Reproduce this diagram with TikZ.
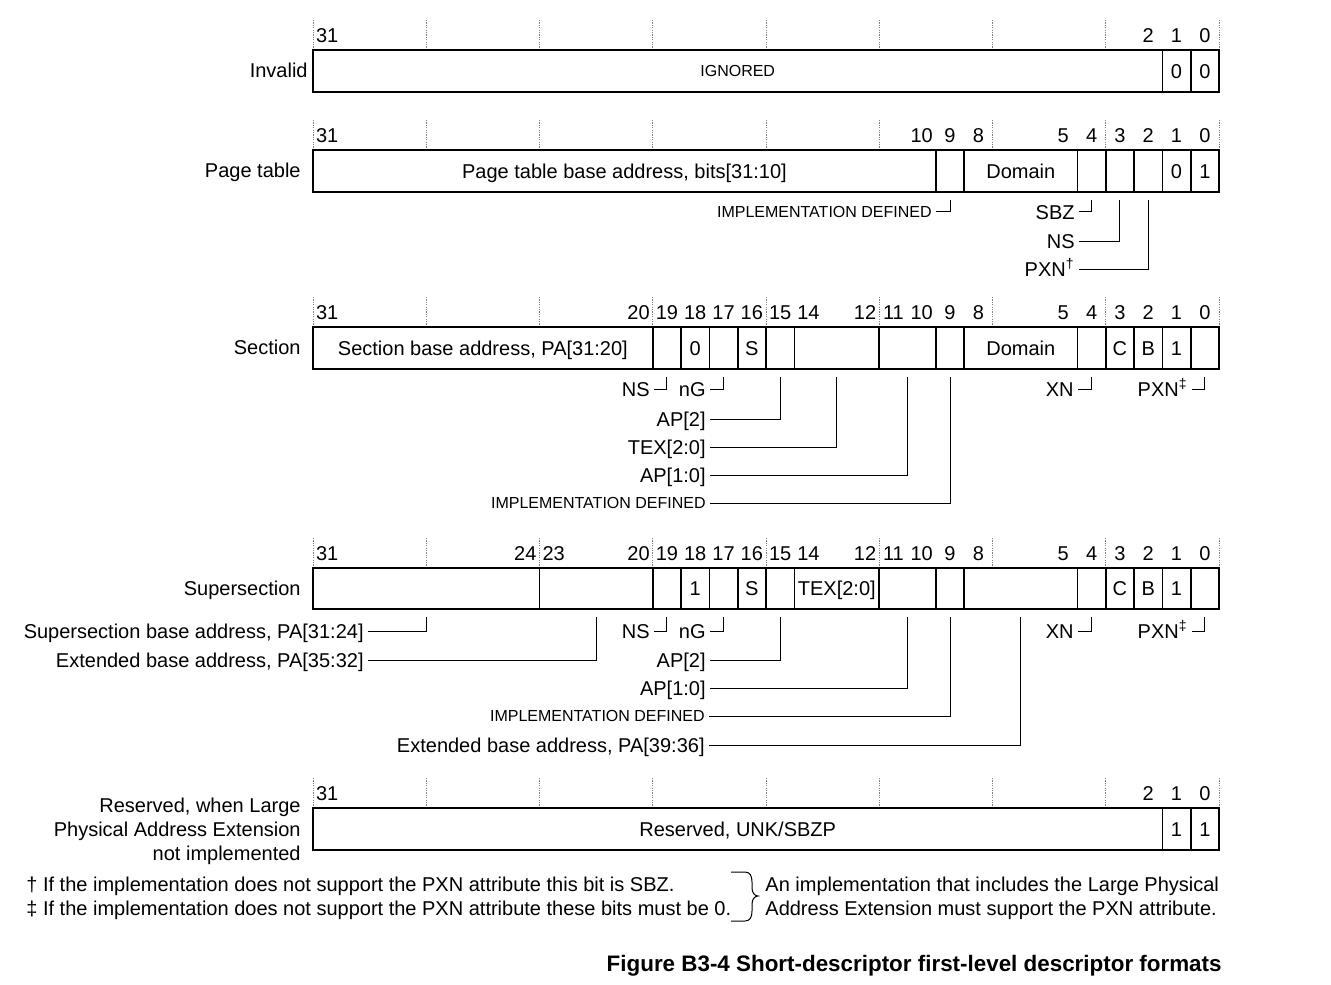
\documentclass[tikz,border=0pt]{standalone}
\usepackage{fontspec}
\setmainfont{Liberation Sans}
% centre of bit field hi:lo (pixel x)
\newcommand\fc[2]{(313+(63-#1-#2)*14.15625)}
% left edge of bit
\newcommand\bL[1]{(313+(31-#1)*28.3125)}
\newcommand\ticksrow[1]{\foreach \k in {0,...,8}{\draw[tick] ({313+\k*113.25},{#1-30}) -- ({313+\k*113.25},#1);}}
\newcommand\numsrow[3]{\foreach \n in {#3}{\node (#1\n) at ({\fc{\n}{\n}},{#2-15}) {\n};}}
\newcommand\divsrow[3]{\foreach \n in {#3}{\draw[div] ({\bL{\n}},#1) -- ({\bL{\n}},#2);}}
\begin{document}
\begin{tikzpicture}[x=0.5pt,y=-0.5pt,
  every node/.style={inner sep=0pt,font=\fontsize{10}{12}\selectfont,text height=7.2pt,text depth=0pt},
  sm/.style={font=\fontsize{8}{10}\selectfont,text height=5.75pt},
  rowlab/.style={anchor=east},
  alab/.style={anchor=east,inner xsep=2pt},
  box/.style={line width=1pt},
  div/.style={line width=0.8pt},
  tick/.style={gray,line width=0.5pt,dash pattern=on 0.6pt off 0.6pt},
  lead/.style={line width=0.5pt}]
\fill[white] (0,0) rectangle (1331,984);
\useasboundingbox (0,0) rectangle (1331,984);

% ---------------- Invalid ----------------
\ticksrow{50}
\numsrow{a}{50}{31,2,1,0}
\draw[box] (313,50) rectangle (1219,92);
\divsrow{50}{92}{1,0}
\node[rowlab] (labA) at (308,70) {Invalid};
\node[sm] (ignA) at ({\fc{31}{2}},71) {IGNORED};
\node (a1v) at ({\fc{1}{1}},71) {0};
\node (a0v) at ({\fc{0}{0}},71) {0};

% ---------------- Page table ----------------
\ticksrow{150}
\numsrow{b}{150}{31,10,9,8,5,4,3,2,1,0}
\draw[box] (313,150) rectangle (1219,192);
\divsrow{150}{192}{9,8,4,3,2,1,0}
\node[rowlab] (labB) at (301,170) {Page table};
\node (ptb) at ({\fc{31}{10}},171) {Page table base address, bits[31:10]};
\node (domB) at ({\fc{8}{5}},171) {Domain};
\node (b1v) at ({\fc{1}{1}},171) {0};
\node (b0v) at ({\fc{0}{0}},171) {1};
\foreach \n in {9,4,3,2} {\coordinate (bt\n) at ({\fc{\n}{\n}},200);}
\node[alab,sm] (bImp) at (936,212) {IMPLEMENTATION DEFINED};
\node[alab] (bSBZ) at (1079,212) {SBZ};
\node[alab] (bNS) at (1079,241) {NS};
\node[alab] (bPXN) at (1079,269) {PXN\textsuperscript{†}};
\draw[lead] (bImp.east) -| (bt9);
\draw[lead] (bSBZ.east) -| (bt4);
\draw[lead] (bNS.east) -| (bt3);
\draw[lead] (bPXN.east) -| (bt2);

% ---------------- Section ----------------
\ticksrow{327}
\numsrow{c}{327}{31,20,19,18,17,16,15,14,12,11,10,9,8,5,4,3,2,1,0}
\draw[box] (313,327) rectangle (1219,369);
\divsrow{327}{369}{19,18,17,16,15,14,11,9,8,4,3,2,1,0}
\node[rowlab] (labC) at (301,347) {Section};
\node (sba) at ({\fc{31}{20}},348) {Section base address, PA[31:20]};
\node (c18v) at ({\fc{18}{18}},348) {0};
\node (c16v) at ({\fc{16}{16}},348) {S};
\node (domC) at ({\fc{8}{5}},348) {Domain};
\node (c3v) at ({\fc{3}{3}},348) {C};
\node (c2v) at ({\fc{2}{2}},348) {B};
\node (c1v) at ({\fc{1}{1}},348) {1};
\foreach \n in {19,17,15,9,4,0} {\coordinate (ct\n) at ({\fc{\n}{\n}},377);}
\coordinate (ctTEX) at ({\fc{14}{12}},377);
\coordinate (ctAP) at ({\fc{11}{10}},377);
\node[alab] (cNS) at (654,389) {NS};
\node[alab] (cnG) at (710,389) {nG};
\node[alab] (cAP2) at (710,419) {AP[2]};
\node[alab] (cTEX) at (710,447) {TEX[2:0]};
\node[alab] (cAP10) at (710,475) {AP[1:0]};
\node[alab,sm] (cImp) at (710,503) {IMPLEMENTATION DEFINED};
\node[alab] (cXN) at (1078,389) {XN};
\node[alab] (cPXN) at (1192,389) {PXN\textsuperscript{‡}};
\draw[lead] (cNS.east) -| (ct19);
\draw[lead] (cnG.east) -| (ct17);
\draw[lead] (cAP2.east) -| (ct15);
\draw[lead] (cTEX.east) -| (ctTEX);
\draw[lead] (cAP10.east) -| (ctAP);
\draw[lead] (cImp.east) -| (ct9);
\draw[lead] (cXN.east) -| (ct4);
\draw[lead] (cPXN.east) -| (ct0);

% ---------------- Supersection ----------------
\ticksrow{568}
\numsrow{d}{568}{31,24,23,20,19,18,17,16,15,14,12,11,10,9,8,5,4,3,2,1,0}
\draw[box] (313,568) rectangle (1219,609);
\divsrow{568}{609}{23,19,18,17,16,15,14,11,9,8,4,3,2,1,0}
\node[rowlab] (labD) at (301,588) {Supersection};
\node (d18v) at ({\fc{18}{18}},588.5) {1};
\node (d16v) at ({\fc{16}{16}},588.5) {S};
\node (dTEXv) at ({\fc{14}{12}},588.5) {TEX[2:0]};
\node (d3v) at ({\fc{3}{3}},588.5) {C};
\node (d2v) at ({\fc{2}{2}},588.5) {B};
\node (d1v) at ({\fc{1}{1}},588.5) {1};
\foreach \n in {19,17,15,9,4,0} {\coordinate (dt\n) at ({\fc{\n}{\n}},617);}
\coordinate (dtSB) at ({\fc{31}{24}},617);
\coordinate (dtEA) at ({\fc{23}{20}},617);
\coordinate (dtAP) at ({\fc{11}{10}},617);
\coordinate (dtEB) at ({\fc{8}{5}},617);
\node[alab] (dSBA) at (368,631) {Supersection base address, PA[31:24]};
\node[alab] (dEA) at (368,660) {Extended base address, PA[35:32]};
\node[alab] (dNS) at (654,631) {NS};
\node[alab] (dnG) at (710,631) {nG};
\node[alab] (dAP2) at (710,660) {AP[2]};
\node[alab] (dAP10) at (710,688) {AP[1:0]};
\node[alab,sm] (dImp) at (709,716) {IMPLEMENTATION DEFINED};
\node[alab] (dEB) at (709,745) {Extended base address, PA[39:36]};
\node[alab] (dXN) at (1078,631) {XN};
\node[alab] (dPXN) at (1192,631) {PXN\textsuperscript{‡}};
\draw[lead] (dSBA.east) -| (dtSB);
\draw[lead] (dEA.east) -| (dtEA);
\draw[lead] (dNS.east) -| (dt19);
\draw[lead] (dnG.east) -| (dt17);
\draw[lead] (dAP2.east) -| (dt15);
\draw[lead] (dAP10.east) -| (dtAP);
\draw[lead] (dImp.east) -| (dt9);
\draw[lead] (dEB.east) -| (dtEB);
\draw[lead] (dXN.east) -| (dt4);
\draw[lead] (dPXN.east) -| (dt0);

% ---------------- Reserved ----------------
\ticksrow{808}
\numsrow{e}{808}{31,2,1,0}
\draw[box] (313,808) rectangle (1219,850);
\divsrow{808}{850}{1,0}
\node[rowlab] (labE1) at (301,805) {Reserved, when Large};
\node[rowlab] (labE2) at (301,829) {Physical Address Extension};
\node[rowlab] (labE3) at (301,853) {not implemented};
\node (resE) at ({\fc{31}{2}},829) {Reserved, UNK/SBZP};
\node (e1v) at ({\fc{1}{1}},829) {1};
\node (e0v) at ({\fc{0}{0}},829) {1};

% ---------------- Footnotes ----------------
\node[anchor=west] (fn1) at (26,884) {† If the implementation does not support the PXN attribute this bit is SBZ.};
\node[anchor=west] (fn2) at (26,908) {‡ If the implementation does not support the PXN attribute these bits must be 0.};
\draw[lead] (731,872) -- (745,872) .. controls (750,872) and (752,876) .. (752,882) -- (752,888)
  .. controls (752,893) and (755,896) .. (758,896)
  .. controls (755,896) and (752,899) .. (752,904) -- (752,911)
  .. controls (752,917) and (750,921) .. (745,921) -- (731,921);
\node[anchor=west] (fn3) at (765,884) {An implementation that includes the Large Physical};
\node[anchor=west] (fn4) at (765,908) {Address Extension must support the PXN attribute.};

\node[anchor=east,font=\bfseries\fontsize{11.2}{13}\selectfont,text height=8pt] (title) at (1222,963) {Figure B3-4 Short-descriptor first-level descriptor formats};
\end{tikzpicture}
\end{document}
